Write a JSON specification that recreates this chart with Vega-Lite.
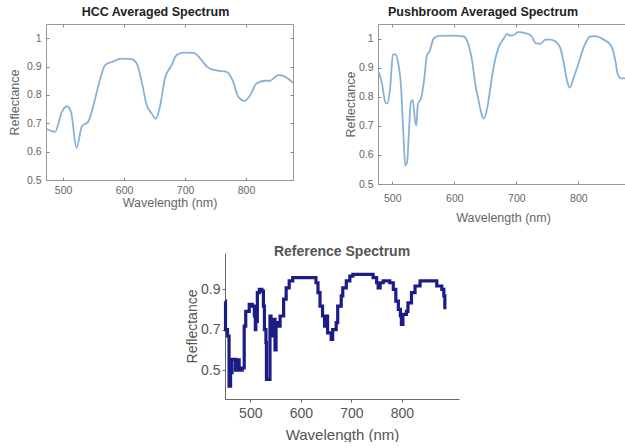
{
  "$schema": "https://vega.github.io/schema/vega-lite/v6.json",
  "padding": {"left": 7, "top": 5, "right": 0, "bottom": 0},
  "background": "white",
  "config": {
    "font": "Liberation Sans",
    "view": {"stroke": "#999"},
    "axis": {"grid": false}
  },
  "datasets": {
    "hcc": [
      {"wl": 473, "r": 0.68}, {"wl": 487, "r": 0.67}, {"wl": 498, "r": 0.74}, {"wl": 506, "r": 0.76},
      {"wl": 513, "r": 0.74}, {"wl": 522, "r": 0.613}, {"wl": 531, "r": 0.69}, {"wl": 541, "r": 0.705},
      {"wl": 550, "r": 0.765}, {"wl": 561, "r": 0.858}, {"wl": 569, "r": 0.905}, {"wl": 580, "r": 0.916},
      {"wl": 596, "r": 0.928}, {"wl": 613, "r": 0.926}, {"wl": 621, "r": 0.91}, {"wl": 629, "r": 0.846},
      {"wl": 637, "r": 0.765}, {"wl": 645, "r": 0.735}, {"wl": 652, "r": 0.716}, {"wl": 659, "r": 0.76},
      {"wl": 667, "r": 0.858}, {"wl": 678, "r": 0.905}, {"wl": 686, "r": 0.94}, {"wl": 697, "r": 0.949},
      {"wl": 714, "r": 0.948}, {"wl": 725, "r": 0.928}, {"wl": 736, "r": 0.899}, {"wl": 749, "r": 0.887},
      {"wl": 768, "r": 0.881}, {"wl": 779, "r": 0.846}, {"wl": 787, "r": 0.794}, {"wl": 798, "r": 0.779},
      {"wl": 807, "r": 0.8}, {"wl": 817, "r": 0.84}, {"wl": 831, "r": 0.85}, {"wl": 839, "r": 0.85},
      {"wl": 853, "r": 0.87}, {"wl": 861, "r": 0.867}, {"wl": 877, "r": 0.843}
    ],
    "push": [
      {"wl": 478, "r": 0.886}, {"wl": 483, "r": 0.85}, {"wl": 489, "r": 0.78}, {"wl": 492, "r": 0.777},
      {"wl": 497, "r": 0.84}, {"wl": 501, "r": 0.944}, {"wl": 505, "r": 0.946}, {"wl": 510, "r": 0.91},
      {"wl": 514, "r": 0.84}, {"wl": 518, "r": 0.668}, {"wl": 521, "r": 0.564}, {"wl": 524, "r": 0.576},
      {"wl": 526, "r": 0.645}, {"wl": 530, "r": 0.78}, {"wl": 533, "r": 0.789}, {"wl": 537, "r": 0.714},
      {"wl": 539, "r": 0.702}, {"wl": 541, "r": 0.771}, {"wl": 547, "r": 0.8}, {"wl": 551, "r": 0.852},
      {"wl": 556, "r": 0.944}, {"wl": 560, "r": 0.955}, {"wl": 567, "r": 1.001}, {"wl": 575, "r": 1.009},
      {"wl": 599, "r": 1.01}, {"wl": 615, "r": 1.007}, {"wl": 623, "r": 0.978}, {"wl": 629, "r": 0.92},
      {"wl": 634, "r": 0.84}, {"wl": 639, "r": 0.789}, {"wl": 643, "r": 0.748}, {"wl": 647, "r": 0.725},
      {"wl": 653, "r": 0.76}, {"wl": 658, "r": 0.829}, {"wl": 663, "r": 0.898}, {"wl": 671, "r": 0.967},
      {"wl": 680, "r": 1.001}, {"wl": 685, "r": 1.016}, {"wl": 690, "r": 1.01}, {"wl": 697, "r": 1.013},
      {"wl": 702, "r": 1.022}, {"wl": 717, "r": 1.017}, {"wl": 725, "r": 1.007}, {"wl": 731, "r": 0.984},
      {"wl": 739, "r": 0.982}, {"wl": 747, "r": 0.996}, {"wl": 755, "r": 0.996}, {"wl": 766, "r": 0.984},
      {"wl": 771, "r": 0.967}, {"wl": 777, "r": 0.91}, {"wl": 782, "r": 0.852}, {"wl": 786, "r": 0.831},
      {"wl": 792, "r": 0.863}, {"wl": 801, "r": 0.92}, {"wl": 809, "r": 0.972}, {"wl": 819, "r": 1.007},
      {"wl": 827, "r": 1.008}, {"wl": 841, "r": 0.996}, {"wl": 852, "r": 0.978}, {"wl": 860, "r": 0.92},
      {"wl": 863, "r": 0.88}, {"wl": 869, "r": 0.863}, {"wl": 876, "r": 0.863}
    ],
    "ref": [
      {"wl": 450, "r": 0.84}, {"wl": 451, "r": 0.70}, {"wl": 455, "r": 0.668}, {"wl": 458, "r": 0.42},
      {"wl": 461, "r": 0.487}, {"wl": 464, "r": 0.553}, {"wl": 471, "r": 0.50}, {"wl": 474, "r": 0.55},
      {"wl": 478, "r": 0.50}, {"wl": 484, "r": 0.51}, {"wl": 488, "r": 0.717}, {"wl": 491, "r": 0.79},
      {"wl": 498, "r": 0.824}, {"wl": 504, "r": 0.816}, {"wl": 508, "r": 0.767}, {"wl": 510, "r": 0.70},
      {"wl": 511, "r": 0.74}, {"wl": 514, "r": 0.882}, {"wl": 518, "r": 0.898}, {"wl": 523, "r": 0.89},
      {"wl": 526, "r": 0.816}, {"wl": 528, "r": 0.70}, {"wl": 531, "r": 0.635}, {"wl": 532, "r": 0.454},
      {"wl": 537, "r": 0.454}, {"wl": 539, "r": 0.767}, {"wl": 541, "r": 0.70}, {"wl": 544, "r": 0.668},
      {"wl": 545, "r": 0.75}, {"wl": 549, "r": 0.60}, {"wl": 551, "r": 0.734}, {"wl": 557, "r": 0.717},
      {"wl": 559, "r": 0.767}, {"wl": 564, "r": 0.767}, {"wl": 566, "r": 0.85}, {"wl": 571, "r": 0.906},
      {"wl": 577, "r": 0.94}, {"wl": 584, "r": 0.956}, {"wl": 624, "r": 0.956}, {"wl": 630, "r": 0.931},
      {"wl": 634, "r": 0.882}, {"wl": 638, "r": 0.816}, {"wl": 643, "r": 0.767}, {"wl": 647, "r": 0.717},
      {"wl": 650, "r": 0.767}, {"wl": 653, "r": 0.684}, {"wl": 660, "r": 0.651}, {"wl": 663, "r": 0.70},
      {"wl": 670, "r": 0.734}, {"wl": 673, "r": 0.816}, {"wl": 680, "r": 0.866}, {"wl": 683, "r": 0.906},
      {"wl": 690, "r": 0.94}, {"wl": 697, "r": 0.964}, {"wl": 703, "r": 0.972}, {"wl": 736, "r": 0.972},
      {"wl": 743, "r": 0.956}, {"wl": 750, "r": 0.931}, {"wl": 753, "r": 0.906}, {"wl": 757, "r": 0.931},
      {"wl": 763, "r": 0.94}, {"wl": 776, "r": 0.931}, {"wl": 783, "r": 0.898}, {"wl": 788, "r": 0.84},
      {"wl": 793, "r": 0.80}, {"wl": 797, "r": 0.767}, {"wl": 799, "r": 0.725}, {"wl": 802, "r": 0.775},
      {"wl": 809, "r": 0.79}, {"wl": 812, "r": 0.832}, {"wl": 819, "r": 0.882}, {"wl": 826, "r": 0.915},
      {"wl": 836, "r": 0.94}, {"wl": 856, "r": 0.94}, {"wl": 869, "r": 0.915}, {"wl": 879, "r": 0.898},
      {"wl": 883, "r": 0.866}, {"wl": 885, "r": 0.80}
    ]
  },
  "bounds": "flush",
  "spacing": 229,
  "vconcat": [
    {
      "bounds": "flush",
      "spacing": 85,
      "hconcat": [
        {
          "width": 247,
          "height": 156,
          "title": {"text": "HCC Averaged Spectrum", "fontSize": 12.5, "fontWeight": "bold", "color": "#222", "dx": -14, "offset": 5},
          "data": {"name": "hcc"},
          "resolve": {"axis": {"x": "independent", "y": "independent"}},
          "layer": [
            {
              "mark": {"type": "line", "interpolate": "monotone", "color": "#86b2d8", "strokeWidth": 1.8, "clip": true},
              "encoding": {
                "x": {"field": "wl", "type": "quantitative", "scale": {"domain": [472, 877], "nice": false, "zero": false},
                  "axis": {"values": [500, 600, 700, 800], "title": "Wavelength (nm)", "domain": false, "tickSize": -3, "tickColor": "#888", "labelPadding": 8, "labelColor": "#666", "labelFontSize": 10.5, "titleColor": "#666", "titleFontSize": 12.5, "titleFontWeight": "normal", "titlePadding": 1}},
                "y": {"field": "r", "type": "quantitative", "scale": {"domain": [0.5, 1.05], "nice": false, "zero": false},
                  "axis": {"values": [0.5, 0.6, 0.7, 0.8, 0.9, 1], "format": "~g", "title": "Reflectance", "domain": false, "tickSize": -3, "tickColor": "#888", "labelPadding": 8, "labelColor": "#666", "labelFontSize": 10.5, "titleColor": "#666", "titleFontSize": 12.5, "titleFontWeight": "normal", "titlePadding": 5}}
              }
            },
            {
              "mark": {"type": "line", "opacity": 0},
              "encoding": {
                "x": {"field": "wl", "type": "quantitative", "axis": {"orient": "top", "values": [500, 600, 700, 800], "labels": false, "title": null, "domain": false, "tickSize": -3, "tickColor": "#888"}},
                "y": {"field": "r", "type": "quantitative", "axis": {"orient": "right", "values": [0.5, 0.6, 0.7, 0.8, 0.9, 1], "labels": false, "title": null, "domain": false, "tickSize": -3, "tickColor": "#888"}}
              }
            }
          ]
        },
        {
          "width": 250,
          "height": 160,
          "title": {"text": "Pushbroom Averaged Spectrum", "fontSize": 12.5, "fontWeight": "bold", "color": "#222", "dx": -20, "offset": 5},
          "data": {"name": "push"},
          "resolve": {"axis": {"x": "independent", "y": "independent"}},
          "layer": [
            {
              "mark": {"type": "line", "interpolate": "monotone", "color": "#86b2d8", "strokeWidth": 1.8, "clip": true},
              "encoding": {
                "x": {"field": "wl", "type": "quantitative", "scale": {"domain": [477, 880], "nice": false, "zero": false},
                  "axis": {"values": [500, 600, 700, 800], "title": "Wavelength (nm)", "domain": false, "tickSize": -3, "tickColor": "#888", "labelPadding": 12, "labelColor": "#666", "labelFontSize": 10.5, "titleColor": "#666", "titleFontSize": 12.5, "titleFontWeight": "normal", "titlePadding": 8}},
                "y": {"field": "r", "type": "quantitative", "scale": {"domain": [0.5, 1.05], "nice": false, "zero": false},
                  "axis": {"values": [0.5, 0.6, 0.7, 0.8, 0.9, 1], "format": "~g", "title": "Reflectance", "domain": false, "tickSize": -3, "tickColor": "#888", "labelPadding": 8, "labelColor": "#666", "labelFontSize": 10.5, "titleColor": "#666", "titleFontSize": 12.5, "titleFontWeight": "normal", "titlePadding": 1}}
              }
            },
            {
              "mark": {"type": "line", "opacity": 0},
              "encoding": {
                "x": {"field": "wl", "type": "quantitative", "axis": {"orient": "top", "values": [500, 600, 700, 800], "labels": false, "title": null, "domain": false, "tickSize": -3, "tickColor": "#888"}},
                "y": {"field": "r", "type": "quantitative", "axis": {"orient": "right", "values": [0.5, 0.6, 0.7, 0.8, 0.9, 1], "labels": false, "title": null, "domain": false, "tickSize": -3, "tickColor": "#888"}}
              }
            }
          ]
        }
      ]
    },
    {
      "bounds": "flush",
      "spacing": 10,
      "hconcat": [
        {
          "width": 169,
          "height": 10,
          "view": {"stroke": null},
          "data": {"values": []},
          "mark": "point"
        },
        {
          "width": 234,
          "height": 146,
          "view": {"stroke": null},
          "title": {"text": "Reference Spectrum", "fontSize": 14, "fontWeight": "bold", "color": "#555", "offset": -6},
          "layer": [
            {
              "data": {"name": "ref"},
              "mark": {"type": "line", "interpolate": "step-after", "color": "#1c1c86", "strokeWidth": 3.2},
              "encoding": {
                "x": {"field": "wl", "type": "quantitative", "scale": {"domain": [450, 913], "nice": false, "zero": false},
                  "axis": {"values": [500, 600, 700, 800], "title": "Wavelength (nm)", "domainColor": "#666", "tickColor": "#666", "tickSize": 3, "labelPadding": 4, "labelColor": "#555", "labelFontSize": 14, "titleColor": "#555", "titleFontSize": 15, "titleFontWeight": "normal", "titlePadding": 7}},
                "y": {"field": "r", "type": "quantitative", "scale": {"domain": [0.357, 1.078], "nice": false, "zero": false},
                  "axis": {"values": [0.5, 0.7, 0.9], "format": ".1f", "title": "Reflectance", "domainColor": "#666", "tickColor": "#666", "tickSize": 3, "labelPadding": 2, "labelColor": "#555", "labelFontSize": 14, "titleColor": "#555", "titleFontSize": 14, "titleFontWeight": "normal", "titlePadding": 1}}
              }
            },
            {
              "mark": {"type": "point", "shape": "triangle-up", "filled": true, "color": "#666", "size": 18, "opacity": 1, "clip": false},
              "encoding": {"x": {"datum": 450}, "y": {"datum": 1.078}}
            },
            {
              "mark": {"type": "point", "shape": "triangle-right", "filled": true, "color": "#666", "size": 18, "opacity": 1, "clip": false},
              "encoding": {"x": {"datum": 913}, "y": {"datum": 0.357}}
            }
          ]
        }
      ]
    }
  ]
}
